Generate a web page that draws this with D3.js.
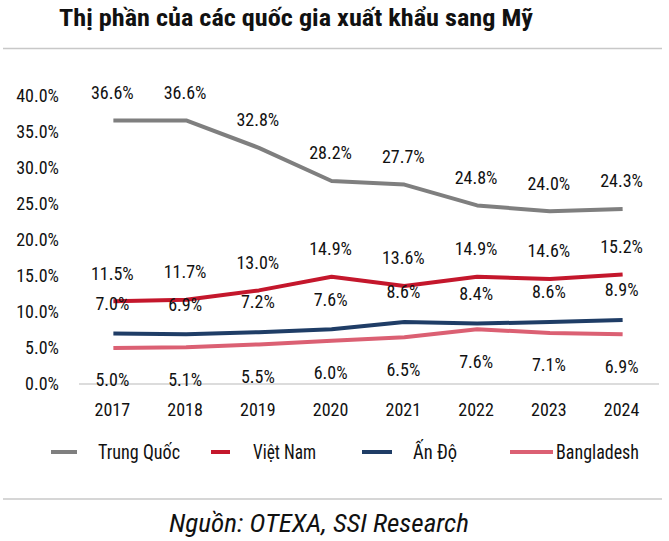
<!DOCTYPE html>
<html><head><meta charset="utf-8">
<script src="https://cdn.jsdelivr.net/npm/d3@7"></script>
<style>
body{margin:0;background:#fff;}
text{font-family:"Liberation Sans Narrow","Roboto Condensed","Arial Narrow",sans-serif;fill:#111;}
</style></head><body>
<svg id="c" width="669" height="541"></svg>
<script>
const years = ["2017","2018","2019","2020","2021","2022","2023","2024"];
const chinaValues = [36.6, 36.6, 32.8, 28.2, 27.7, 24.8, 24.0, 24.3];
const vietnamValues = [11.5, 11.7, 13.0, 14.9, 13.6, 14.9, 14.6, 15.2];
const indiaValues = [7.0, 6.9, 7.2, 7.6, 8.6, 8.4, 8.6, 8.9];
const bangladeshValues = [5.0, 5.1, 5.5, 6.0, 6.5, 7.6, 7.1, 6.9];
const yTicks = [0, 5, 10, 15, 20, 25, 30, 35, 40];
const seriesNames = ["Trung Quốc", "Việt Nam", "Ấn Độ", "Bangladesh"];

const series = [
  {name: seriesNames[0], values: chinaValues, color: "#7f7f7f", dy: -28},
  {name: seriesNames[1], values: vietnamValues, color: "#c4172c", dy: -28},
  {name: seriesNames[2], values: indiaValues, color: "#1f3d66", dy: -30},
  {name: seriesNames[3], values: bangladeshValues, color: "#db6073", dy: 32}
];

const svg = d3.select("#c");
const x = d3.scaleBand().domain(years).range([77, 659]);
const y = d3.scaleLinear().domain([0, 40]).range([384, 96]);

// title
svg.append("text").attr("x", 59).attr("y", 26)
  .attr("font-size", 23).attr("font-weight", "bold")
  .attr("textLength", 474).attr("lengthAdjust", "spacingAndGlyphs")
  .text("Thị phần của các quốc gia xuất khẩu sang Mỹ");
svg.append("line").attr("x1", 3).attr("x2", 662).attr("y1", 48.5).attr("y2", 48.5)
  .attr("stroke", "#c8c8c8").attr("stroke-width", 1.5);

// y axis labels
svg.append("g").selectAll("text").data(yTicks).join("text")
  .attr("x", 59).attr("y", d => y(d)).attr("dy", "0.35em")
  .attr("text-anchor", "end").attr("font-size", 18)
  .text(d => d.toFixed(1) + "%");

// baseline
svg.append("line").attr("x1", 79).attr("x2", x.range()[1])
  .attr("y1", y(0)).attr("y2", y(0)).attr("stroke", "#d0d0d0").attr("stroke-width", 1.5);

// x labels
svg.append("g").selectAll("text").data(years).join("text")
  .attr("x", d => x(d) + x.bandwidth() / 2 - 1).attr("y", 410).attr("dy", "0.35em")
  .attr("text-anchor", "middle").attr("font-size", 18).text(d => d);

const line = d3.line().x((d, i) => x(years[i]) + x.bandwidth() / 2).y(d => y(d));

series.forEach(s => {
  svg.append("path").datum(s.values).attr("d", line)
    .attr("fill", "none").attr("stroke", s.color).attr("stroke-width", 4)
    .attr("stroke-linejoin", "round");
});
series.forEach(s => {
  svg.append("g").selectAll("text").data(s.values).join("text")
    .attr("x", (d, i) => x(years[i]) + x.bandwidth() / 2 - 1)
    .attr("y", d => y(d) + s.dy).attr("dy", "0.35em")
    .attr("text-anchor", "middle").attr("font-size", 18)
    .text(d => d.toFixed(1) + "%");
});

// legend
const legendPos = [
  {lx1: 51, lx2: 77, tx: 98, tw: 82},
  {lx1: 211, lx2: 230, tx: 253, tw: 63},
  {lx1: 362, lx2: 392, tx: 413, tw: 44},
  {lx1: 510, lx2: 553, tx: 556, tw: 83}
];
series.forEach((s, i) => {
  const p = legendPos[i];
  svg.append("line").attr("x1", p.lx1).attr("x2", p.lx2).attr("y1", 452).attr("y2", 452)
    .attr("stroke", s.color).attr("stroke-width", 4);
  svg.append("text").attr("x", p.tx).attr("y", 452).attr("dy", "0.35em")
    .attr("font-size", 20).attr("textLength", p.tw).attr("lengthAdjust", "spacingAndGlyphs")
    .text(s.name);
});

svg.append("line").attr("x1", 3).attr("x2", 662).attr("y1", 499).attr("y2", 499)
  .attr("stroke", "#c8c8c8").attr("stroke-width", 1.5);

svg.append("text").attr("x", 169).attr("y", 532)
  .attr("font-size", 26).attr("font-style", "italic").attr("fill", "#222")
  .attr("textLength", 300).attr("lengthAdjust", "spacingAndGlyphs")
  .text("Nguồn: OTEXA, SSI Research");
</script></body></html>
